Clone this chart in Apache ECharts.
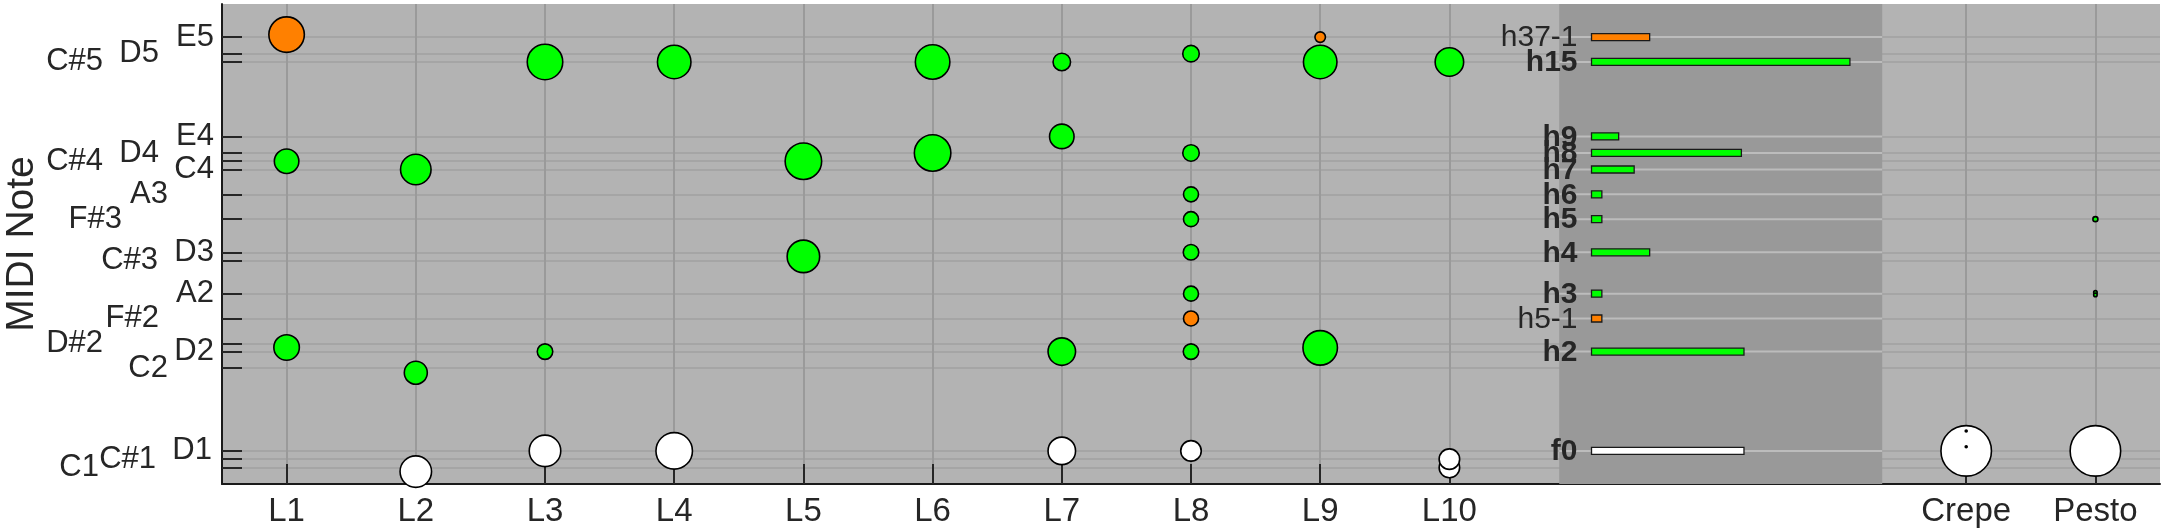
<!DOCTYPE html>
<html>
<head>
<meta charset="utf-8">
<script src="https://cdn.jsdelivr.net/npm/echarts@6.0.0/dist/echarts.min.js"></script>
<style>
  html, body { margin: 0; padding: 0; background: #fff; }
  #chart { width: 2164px; height: 531px; }
</style>
</head>
<body>
<div id="chart"></div>
<script>
  // x axis: layers L1..L10, then a gap for the harmonic bars, then Crepe / Pesto
  const xLabels = ['L1', 'L2', 'L3', 'L4', 'L5', 'L6', 'L7', 'L8', 'L9', 'L10', 'Crepe', 'Pesto'];
  const xPositions = [1, 2, 3, 4, 5, 6, 7, 8, 9, 10, 14, 15];

  // y axis: MIDI notes with a tick + label
  const noteNames = ['E5', 'D5', 'C#5', 'E4', 'D4', 'C#4', 'C4', 'A3', 'F#3', 'D3', 'C#3', 'A2', 'F#2', 'D#2', 'D2', 'C2', 'D1', 'C#1', 'C1'];
  const noteValues = [76, 74, 73, 64, 62, 61, 60, 57, 54, 50, 49, 45, 42, 39, 38, 36, 26, 25, 24];

  // harmonic bars (f0 = D1)
  const harmLabels = ['h37-1', 'h15', 'h9', 'h8', 'h7', 'h6', 'h5', 'h4', 'h3', 'h5-1', 'h2', 'f0'];
  const harmNotes = [76, 73, 64, 62, 60, 57, 54, 50, 45, 42, 38, 26];
  const harmValues = [0.45, 2.0, 0.21, 1.16, 0.33, 0.08, 0.08, 0.45, 0.08, 0.08, 1.18, 1.18];
  const harmKinds = ['sub', 'h', 'h', 'h', 'h', 'h', 'h', 'h', 'h', 'sub', 'h', 'f0'];

  // detected pitches (bubble diameter = strength)
  const pointX = [
    1, 1, 1,
    2, 2, 2,
    3, 3, 3,
    4, 4,
    5, 5,
    6, 6,
    7, 7, 7, 7,
    8, 8, 8, 8, 8, 8, 8, 8, 8,
    9, 9, 9,
    10, 10, 10,
    14, 14, 14,
    15, 15, 15, 15
  ];
  const pointNote = [
    76.3, 61, 38.5,
    60, 35.45, 23.5,
    73, 38, 26,
    73, 26,
    61, 49.5,
    73, 62,
    73, 64, 38, 26,
    74, 62, 57, 54, 50, 45, 42, 38, 26,
    76, 73, 38.45,
    73, 24, 25,
    26, 28.4, 26.5,
    26, 54, 45.15, 44.85
  ];
  const pointSize = [
    37, 26, 27,
    32, 24.5, 33,
    37, 17, 33,
    35, 38,
    38, 34,
    36, 38,
    19, 26, 29, 29,
    18, 18, 16.5, 16.5, 17, 16.5, 16.5, 17, 22,
    12, 35, 36,
    30, 22, 22,
    52, 3, 3,
    52, 6.5, 5, 5
  ];
  const pointKind = [
    'sub', 'h', 'h',
    'h', 'h', 'f0',
    'h', 'h', 'f0',
    'h', 'f0',
    'h', 'h',
    'h', 'h',
    'h', 'h', 'h', 'f0',
    'h', 'h', 'h', 'h', 'h', 'h', 'sub', 'h', 'f0',
    'sub', 'h', 'h',
    'h', 'f0', 'f0',
    'f0', 'dot', 'dot',
    'f0', 'h', 'h', 'h'
  ];

  const kindColor = { h: '#00ff00', sub: '#ff8000', f0: '#ffffff', dot: '#000000' };
  const FONT = "'Liberation Sans', Arial, Helvetica, sans-serif";
  const TEXT = '#262626';
  const Y_MIN = 22, Y_MAX = 80;
  const BAND = [10.85, 13.35];
  const BAR_START = 11.1;

  // staggered y labels (px shift to the left), like the original figure
  const labelShift = { 'D5': 55, 'C#5': 111, 'D4': 55, 'C#4': 111, 'A3': 46, 'F#3': 92, 'C#3': 56,
    'F#2': 55, 'D#2': 111, 'C2': 46, 'D1': 2, 'C#1': 58, 'C1': 115 };
  const rich = {};
  noteNames.forEach((n) => {
    const s = labelShift[n] || 0;
    rich['s' + s] = { fontSize: 31, fontFamily: FONT, color: TEXT, padding: [0, s, 0, 0] };
  });

  const chart = echarts.init(document.getElementById('chart'));

  const option = {
    animation: false,
    grid: {
      left: 222, right: 4, top: 4, bottom: 47,
      show: true, backgroundColor: '#b3b3b3', borderWidth: 0,
      outerBoundsMode: 'none'
    },
    xAxis: {
      type: 'value',
      min: 0.5,
      max: 15.5,
      axisLine: { show: true, onZero: false, lineStyle: { color: '#1a1a1a', width: 2 } },
      axisTick: { show: true, inside: true, length: 20, customValues: xPositions, lineStyle: { color: TEXT, width: 2 } },
      axisLabel: {
        customValues: xPositions,
        margin: 11,
        fontSize: 33,
        fontFamily: FONT,
        color: TEXT,
        formatter: (v) => xLabels[xPositions.indexOf(v)]
      },
      splitLine: { show: true, lineStyle: { color: '#9a9a9a', width: 2 } }
    },
    yAxis: {
      type: 'value',
      min: Y_MIN,
      max: Y_MAX,
      name: 'MIDI Note',
      nameLocation: 'middle',
      nameGap: 180,
      nameMoveOverlap: false,
      nameTextStyle: { fontSize: 39, fontFamily: FONT, color: TEXT },
      axisLine: { show: true, onZero: false, lineStyle: { color: '#1a1a1a', width: 2 } },
      axisTick: { show: true, inside: true, length: 20, customValues: noteValues, lineStyle: { color: TEXT, width: 2 } },
      axisLabel: {
        customValues: noteValues,
        margin: 8,
        fontSize: 31,
        fontFamily: FONT,
        color: TEXT,
        formatter: (v) => {
          const name = noteNames[noteValues.indexOf(v)];
          return '{s' + (labelShift[name] || 0) + '|' + name + '}';
        },
        rich
      },
      splitLine: { show: true, lineStyle: { color: '#a5a5a5', width: 2 } }
    },
    series: [
      {
        // darker band behind the harmonic bars
        type: 'custom',
        z: 1,
        silent: true,
        clip: true,
        data: [[BAND[0], Y_MIN]],
        renderItem: (params, api) => {
          const p0 = api.coord([BAND[0], Y_MAX]);
          const p1 = api.coord([BAND[1], Y_MIN]);
          return {
            type: 'rect',
            shape: { x: p0[0], y: p0[1], width: p1[0] - p0[0], height: p1[1] - p0[1] },
            style: { fill: '#999999' }
          };
        }
      },
      {
        // harmonic bars with their labels
        type: 'custom',
        z: 3,
        silent: true,
        clip: false,
        data: harmNotes.map((n, i) => [BAR_START, n, harmValues[i], i]),
        renderItem: (params, api) => {
          const i = api.value(3);
          const note = api.value(1);
          const start = api.coord([BAR_START, note]);
          const end = api.coord([BAR_START + api.value(2), note]);
          const b0 = api.coord([BAND[0], note]);
          const b1 = api.coord([BAND[1], note]);
          const y = start[1];
          const bold = harmKinds[i] !== 'sub';
          return {
            type: 'group',
            children: [
              { type: 'line', shape: { x1: b0[0], y1: y, x2: b1[0], y2: y }, style: { stroke: '#bcbcbc', lineWidth: 2 } },
              {
                type: 'rect',
                shape: { x: start[0], y: y - 3.5, width: end[0] - start[0], height: 7 },
                style: { fill: kindColor[harmKinds[i]], stroke: '#1a1a1a', lineWidth: 1.3 }
              },
              {
                type: 'text',
                x: start[0] - 14,
                y: y + 1,
                style: {
                  text: harmLabels[i],
                  fill: TEXT,
                  fontSize: 30,
                  fontWeight: bold ? 'bold' : 'normal',
                  fontFamily: FONT,
                  align: 'right',
                  verticalAlign: 'middle'
                }
              }
            ]
          };
        }
      },
      {
        type: 'scatter',
        z: 4,
        silent: true,
        data: pointX.map((x, i) => ({
          value: [x, pointNote[i], pointSize[i]],
          itemStyle: { color: kindColor[pointKind[i]] }
        })),
        symbol: 'circle',
        symbolSize: (val) => Math.max(val[2] - 1.5, 2),
        itemStyle: { borderColor: '#000', borderWidth: 1.6, opacity: 1 }
      }
    ]
  };

  chart.setOption(option);
  window.addEventListener('resize', () => chart.resize());
</script>
</body>
</html>
